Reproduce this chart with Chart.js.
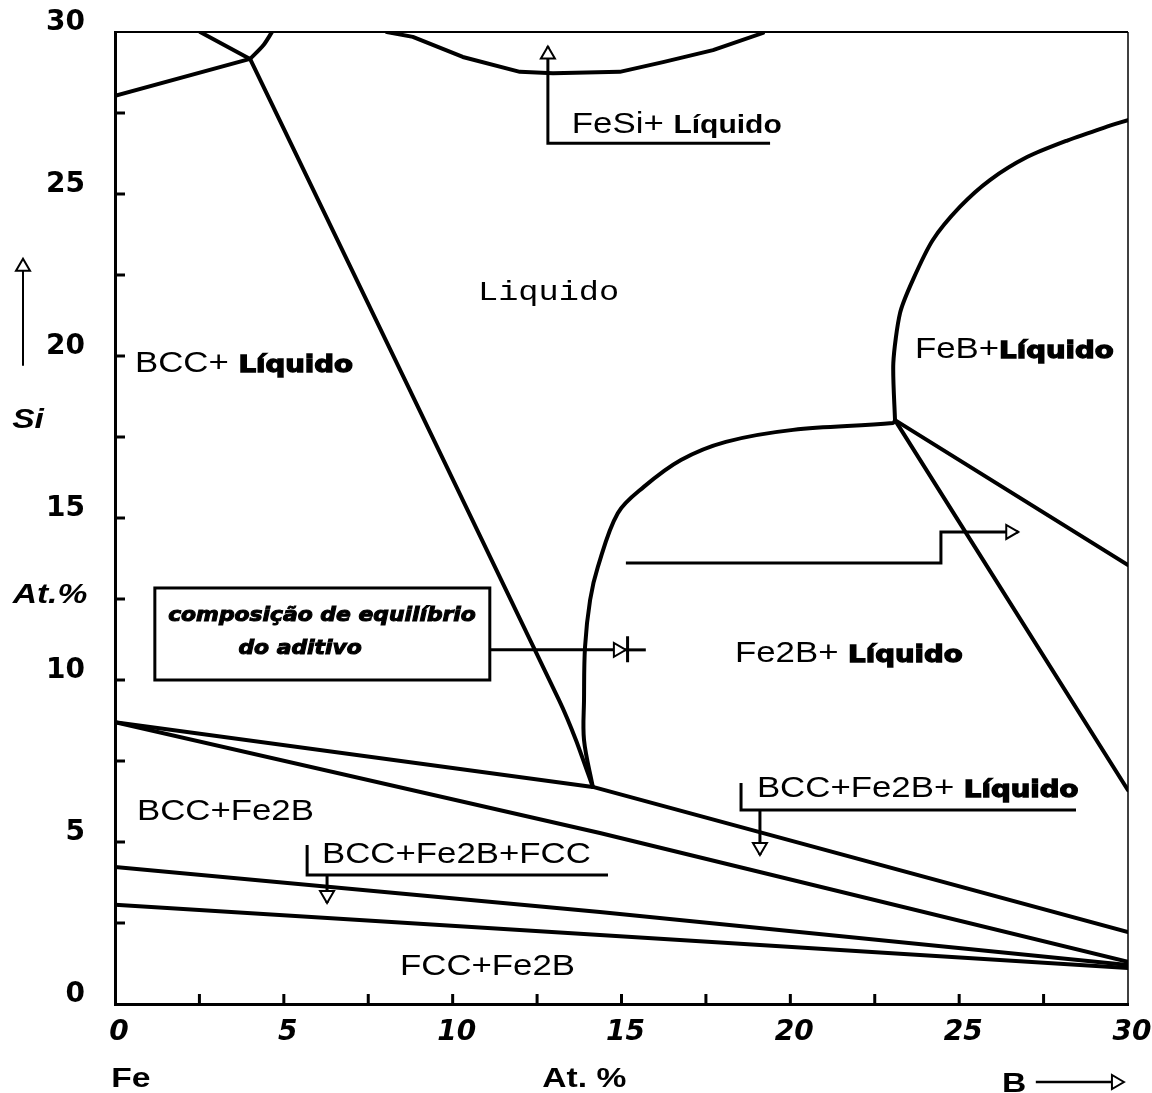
<!DOCTYPE html>
<html>
<head>
<meta charset="utf-8">
<script src="https://cdn.jsdelivr.net/npm/chart.js@4.4.1/dist/chart.umd.min.js"></script>
<style>
  html, body { margin: 0; padding: 0; background: #fff; }
  canvas { display: block; }
</style>
</head>
<body>
<canvas id="diagram" width="1152" height="1093"></canvas>
<script>
// phase boundaries, [B at.%, Si at.%]
var bccLiquidus = [[4.0, 29.17], [13.15, 9.38], [13.65, 8.15], [14.15, 6.70]];
var fe2bLiquidus = [[14.15, 6.70], [13.89, 8.15], [13.89, 9.38], [13.92, 11.02], [14.07, 12.47], [14.30, 13.49],
  [14.89, 15.15], [15.66, 15.96], [16.76, 16.79], [18.09, 17.35], [20.08, 17.72], [23.04, 17.93], [23.10, 18.02]];
var febLiquidus = [[23.10, 18.02], [23.05, 19.78], [23.25, 21.33], [23.63, 22.35], [24.22, 23.58], [25.02, 24.60],
  [25.91, 25.43], [27.01, 26.14], [28.2, 26.65], [29.3, 27.05], [30.0, 27.28]];
var fesiLiquidus = [[8.05, 30.0], [8.82, 29.85], [10.30, 29.23], [11.99, 28.77], [12.97, 28.73], [14.95, 28.77],
  [16.23, 29.07], [17.71, 29.44], [19.19, 29.97]];
var bccTopLeft = [[0, 28.03], [4.0, 29.17]];
var bccTopA = [[2.52, 30.0], [4.0, 29.17]];
var bccTopB = [[4.0, 29.17], [4.4, 29.6], [4.65, 30.0]];
var febTieUpper = [[23.10, 18.02], [30.0, 13.55]];
var febTieLower = [[23.10, 18.02], [30.0, 6.60]];
var eutecticLine = [[0, 8.70], [14.15, 6.70], [30.0, 2.22]];
var bccFe2bLine = [[0, 8.70], [14.36, 5.28], [30.0, 1.30]];
var fccUpperLine = [[0, 4.23], [14.36, 2.84], [30.0, 1.20]];
var fccLowerLine = [[0, 3.06], [14.36, 2.13], [30.0, 1.11]];

// pointer lines (last point = arrow tip)
var fesiPointer = [[19.40, 26.57], [12.82, 26.57], [12.82, 29.55]];
var aditivoPointer = [[11.10, 10.93], [15.13, 10.93]];
var aditivoTail = [[15.13, 10.93], [15.72, 10.93]];
var aditivoBar = [[15.18, 11.35], [15.18, 10.55]];
var fe2bPointer = [[15.13, 13.61], [24.46, 13.61], [24.46, 14.57], [26.75, 14.57]];
var fccBracket = [[5.69, 4.91], [5.69, 3.98], [14.6, 3.98]];
var fccPointer = [[6.28, 3.98], [6.28, 3.12]];
var liqBracket = [[18.54, 6.82], [18.54, 5.99], [28.46, 5.99]];
var liqPointer = [[19.10, 5.99], [19.10, 4.60]];
var noteBox = [[1.18, 12.84], [11.10, 10.0]];

var regionLabels = [
  { parts: [['Liquido', 'mono']], at: [10.75, 22.04] },
  { parts: [['BCC+ ', 'reg'], ['Líquido', 'heavy']], at: [0.59, 19.81] },
  { parts: [['FeB+', 'reg'], ['Líquido', 'heavy']], at: [23.69, 20.25] },
  { parts: [['Fe2B+ ', 'reg'], ['Líquido', 'heavy']], at: [18.36, 10.86] },
  { parts: [['FeSi+ ', 'reg'], ['Líquido', 'semi']], at: [13.53, 27.19] },
  { parts: [['BCC+Fe2B', 'reg']], at: [0.65, 5.99] },
  { parts: [['BCC+Fe2B+FCC', 'reg']], at: [6.13, 4.66] },
  { parts: [['FCC+Fe2B', 'reg']], at: [8.44, 1.20] },
  { parts: [['BCC+Fe2B+ ', 'reg'], ['Líquido', 'heavy']], at: [19.01, 6.70] }
];
var noteLines = [['composição de equilíbrio', 6.13, 12.0], ['do aditivo', 5.48, 10.99]];

var S = 1.2;
var fonts = {
  reg: '29px "Liberation Sans"',
  heavy: 'bold 23px "DejaVu Sans"',
  mono: '28px "Liberation Mono"',
  semi: 'bold 25px "Liberation Sans"',
  note: 'italic bold 19px "DejaVu Sans"',
  axis: 'bold 28px "Liberation Sans"',
  axisIt: 'italic bold 28px "Liberation Sans"'
};

function pts(arr) {
  return arr.map(function (p) { return { x: p[0], y: p[1] }; });
}

function boundary(arr, tension) {
  return { data: pts(arr), showLine: true, borderColor: '#000', borderWidth: 4, pointRadius: 0,
    tension: tension || 0, borderJoinStyle: 'round', borderCapStyle: 'round' };
}

function pointer(arr, arrow) {
  return { data: pts(arr), showLine: true, borderColor: '#000', borderWidth: 3, pointRadius: 0,
    tension: 0, borderJoinStyle: 'miter', arrow: !!arrow };
}

var datasets = [
  boundary(bccLiquidus, 0.2), boundary(fe2bLiquidus, 0.35), boundary(febLiquidus, 0.25),
  boundary(fesiLiquidus), boundary(bccTopLeft), boundary(bccTopA), boundary(bccTopB, 0.3),
  boundary(febTieUpper), boundary(febTieLower),
  boundary(eutecticLine), boundary(bccFe2bLine), boundary(fccUpperLine), boundary(fccLowerLine),
  pointer(fesiPointer, true), pointer(aditivoPointer, true), pointer(aditivoTail), pointer(aditivoBar),
  pointer(fe2bPointer, true), pointer(fccBracket), pointer(fccPointer, true),
  pointer(liqBracket), pointer(liqPointer, true)
];

function drawParts(ctx, parts, x, y, align) {
  var widths = parts.map(function (p) { ctx.font = fonts[p[1]]; return ctx.measureText(p[0]).width; });
  var total = widths.reduce(function (a, b) { return a + b; }, 0);
  ctx.save();
  ctx.translate(x, y + 10);
  ctx.scale(S, 1);
  var cx = align === 'center' ? -total / 2 : 0;
  ctx.textAlign = 'left';
  ctx.textBaseline = 'alphabetic';
  ctx.fillStyle = '#000';
  ctx.strokeStyle = '#000';
  ctx.lineWidth = 1.3;
  parts.forEach(function (p, i) {
    ctx.font = fonts[p[1]];
    ctx.fillText(p[0], cx, 0);
    if (p[1] === 'heavy') ctx.strokeText(p[0], cx, 0);
    cx += widths[i];
  });
  ctx.restore();
}

function arrowHead(ctx, x0, y0, x1, y1) {
  var a = Math.atan2(y1 - y0, x1 - x0);
  ctx.save();
  ctx.translate(x1, y1);
  ctx.rotate(a);
  ctx.beginPath();
  ctx.moveTo(0, 0);
  ctx.lineTo(-12, -7);
  ctx.lineTo(-12, 7);
  ctx.closePath();
  ctx.fillStyle = '#fff';
  ctx.fill();
  ctx.lineWidth = 2;
  ctx.strokeStyle = '#000';
  ctx.stroke();
  ctx.restore();
}

function noPad(s) {
  s.paddingTop = 0; s.paddingBottom = 0; s.paddingLeft = 0; s.paddingRight = 0;
}

var phasePlugin = {
  id: 'phase',
  afterDatasetsDraw: function (chart) {
    var ctx = chart.ctx, xs = chart.scales.x, ys = chart.scales.y;
    var X = function (v) { return xs.getPixelForValue(v); };
    var Y = function (v) { return ys.getPixelForValue(v); };
    ctx.save();
    // arrow heads on pointer lines
    chart.data.datasets.forEach(function (ds, i) {
      if (!ds.arrow) return;
      var d = chart.getDatasetMeta(i).data;
      var p0 = d[d.length - 2], p1 = d[d.length - 1];
      arrowHead(ctx, p0.x, p0.y, p1.x, p1.y);
    });
    // note box
    ctx.lineWidth = 3;
    ctx.strokeStyle = '#000';
    ctx.strokeRect(X(noteBox[0][0]), Y(noteBox[0][1]), X(noteBox[1][0]) - X(noteBox[0][0]), Y(noteBox[1][1]) - Y(noteBox[0][1]));
    noteLines.forEach(function (n) {
      ctx.save();
      ctx.translate(X(n[1]), Y(n[2]) + 6);
      ctx.scale(1.15, 1);
      ctx.font = fonts.note;
      ctx.textAlign = 'center';
      ctx.textBaseline = 'alphabetic';
      ctx.fillStyle = '#000';
      ctx.strokeStyle = '#000';
      ctx.lineWidth = 1;
      ctx.fillText(n[0], 0, 0);
      ctx.strokeText(n[0], 0, 0);
      ctx.restore();
    });
    regionLabels.forEach(function (l) {
      drawParts(ctx, l.parts, X(l.at[0]), Y(l.at[1]), 'left');
    });
    ctx.restore();
  },
  afterDraw: function (chart) {
    var ctx = chart.ctx, xs = chart.scales.x, ys = chart.scales.y, a = chart.chartArea;
    ctx.save();
    ctx.strokeStyle = '#000';
    // frame top and right
    ctx.lineWidth = 2;
    ctx.beginPath(); ctx.moveTo(a.left, a.top); ctx.lineTo(a.right, a.top); ctx.stroke();
    ctx.lineWidth = 1.5;
    ctx.beginPath(); ctx.moveTo(a.right, a.top); ctx.lineTo(a.right, a.bottom); ctx.stroke();
    // inward tick marks
    ctx.lineWidth = 3;
    xs.ticks.forEach(function (t) {
      if (t.value <= 0 || t.value >= 30) return;
      var px = xs.getPixelForValue(t.value);
      ctx.beginPath(); ctx.moveTo(px, a.bottom); ctx.lineTo(px, a.bottom - 10); ctx.stroke();
    });
    ys.ticks.forEach(function (t) {
      if (t.value <= 0 || t.value >= 30) return;
      var py = ys.getPixelForValue(t.value);
      ctx.beginPath(); ctx.moveTo(a.left, py); ctx.lineTo(a.left + 10, py); ctx.stroke();
    });
    // y title: arrow, Si, At.%
    ctx.lineWidth = 2;
    ctx.beginPath(); ctx.moveTo(23, ys.getPixelForValue(19.7)); ctx.lineTo(23, ys.getPixelForValue(22.9)); ctx.stroke();
    arrowHead(ctx, 23, ys.getPixelForValue(19.7), 23, ys.getPixelForValue(23.0));
    drawParts(ctx, [['Si', 'axisIt']], 28, ys.getPixelForValue(18.1), 'center');
    drawParts(ctx, [['At.%', 'axisIt']], 50, ys.getPixelForValue(12.7), 'center');
    // x title: Fe, At. %, B ->
    var by = a.bottom + 73;
    drawParts(ctx, [['Fe', 'axis']], xs.getPixelForValue(0.47), by, 'center');
    drawParts(ctx, [['At. %', 'axis']], xs.getPixelForValue(13.9), by, 'center');
    drawParts(ctx, [['B', 'axis']], xs.getPixelForValue(26.63), by + 5, 'center');
    ctx.lineWidth = 2.5;
    var ax0 = xs.getPixelForValue(27.27), ax1 = xs.getPixelForValue(29.88);
    ctx.beginPath(); ctx.moveTo(ax0, by + 5); ctx.lineTo(ax1 - 6, by + 5); ctx.stroke();
    arrowHead(ctx, ax0, by + 5, ax1, by + 5);
    ctx.restore();
  }
};

new Chart(document.getElementById('diagram'), {
  type: 'scatter',
  data: { datasets: datasets },
  options: {
    responsive: false,
    animation: false,
    devicePixelRatio: 1,
    layout: { padding: { top: 32, right: 24, left: 0, bottom: 0 } },
    plugins: { legend: { display: false }, tooltip: { enabled: false } },
    scales: {
      x: {
        type: 'linear', position: 'bottom', min: 0, max: 30,
        grid: { display: false, drawTicks: false },
        border: { display: true, color: '#000', width: 3 },
        ticks: {
          stepSize: 2.5, autoSkip: false, maxRotation: 0, padding: 12, labelOffset: 4, color: '#000',
          font: { family: 'DejaVu Sans', size: 28, weight: 'bold', style: 'italic' },
          callback: function (v) { return v % 5 === 0 ? String(v) : ''; }
        },
        afterFit: function (s) { s.height = 89; noPad(s); }
      },
      y: {
        type: 'linear', position: 'left', min: 0, max: 30,
        grid: { display: false, drawTicks: false },
        border: { display: true, color: '#000', width: 3 },
        ticks: {
          stepSize: 2.5, autoSkip: false, padding: 30, labelOffset: -9, color: '#000',
          font: { family: 'DejaVu Sans', size: 28, weight: 'bold' },
          callback: function (v) { return v % 5 === 0 ? String(v) : ''; }
        },
        afterFit: function (s) { s.width = 115; noPad(s); }
      }
    }
  },
  plugins: [phasePlugin]
});
</script>
</body>
</html>
